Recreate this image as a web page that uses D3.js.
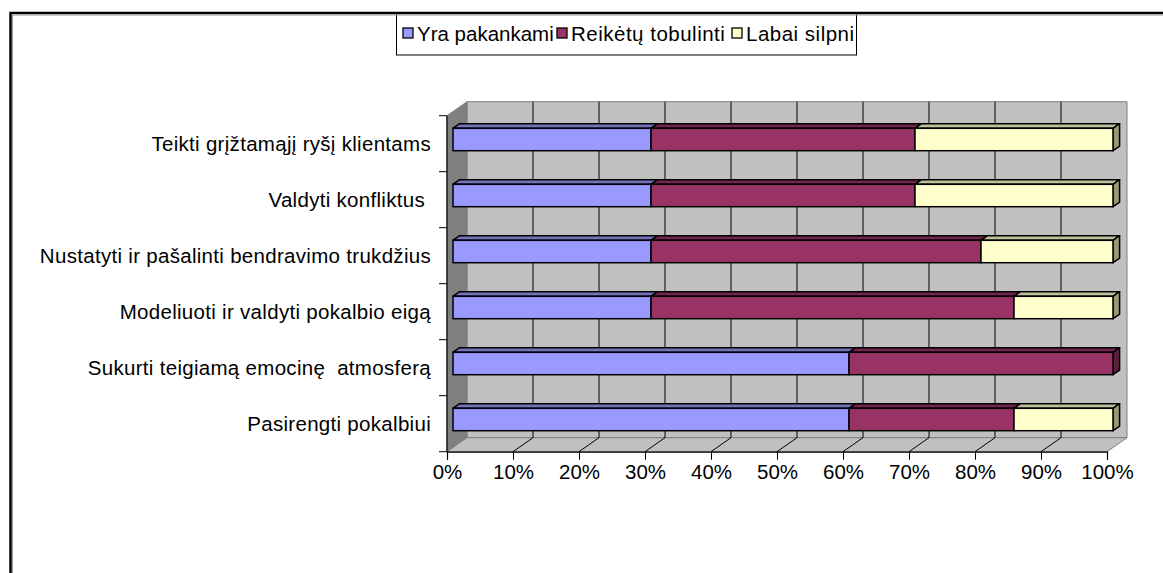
<!DOCTYPE html>
<meta charset="utf-8">

<!-- Load d3.js -->
<script src="https://d3js.org/d3.v7.min.js"></script>

<style>
  body { margin: 0; background: white; }
  .chart-text {
    font-family: "Liberation Sans", Arial, Helvetica, sans-serif;
    font-size: 20.5px;
    fill: black;
  }
</style>

<body>
<div id="my_dataviz"></div>

<script>
  // Data
  var categories = [
    "Teikti grįžtamąjį ryšį klientams",
    "Valdyti konfliktus ",
    "Nustatyti ir pašalinti bendravimo trukdžius",
    "Modeliuoti ir valdyti pokalbio eigą",
    "Sukurti teigiamą emocinę  atmosferą",
    "Pasirengti pokalbiui"
  ];
  var seriesNames = ["Yra pakankami", "Reikėtų tobulinti", "Labai silpni"];
  var yraPakankami     = [30, 30, 30, 30, 60, 60];
  var reiketuTobulinti = [40, 40, 50, 55, 40, 25];
  var labaiSilpni      = [30, 30, 20, 15, 0, 15];
  var xTicks = [0, 10, 20, 30, 40, 50, 60, 70, 80, 90, 100];

  // colours: front face, top face, right face
  var frontColor = ["#9999FF", "#993366", "#FFFFCC"];
  var topColor = ["#7373BF", "#73264D", "#BFBF99"];
  var sideColor = ["#5C5C99", "#5C1F3D", "#99997A"];

  var width = 1163, height = 573;

  // depth of the 3D box (towards upper right)
  var DX = 20, DY = -14;
  // bar sits between these fractions of the depth
  var barFront = 0.3, barBack = 0.63;

  var svg = d3.select("#my_dataviz").append("svg")
      .attr("width", width)
      .attr("height", height);

  // Scales
  var x = d3.scaleLinear()
      .domain([0, 100])
      .range([447, 1107]);

  var y = d3.scaleBand()
      .domain(categories)
      .range([115.7, 451.7])
      .paddingInner(0.6)
      .paddingOuter(0.3);

  var yTop = 115.7, yBottom = 451.7;

  function pts(arr) {
    return arr.map(function(p) { return p[0] + "," + p[1]; }).join(" ");
  }

  // ---------------- walls and floor ----------------
  // back wall
  svg.append("polygon")
    .attr("points", pts([[x(0) + DX, yTop + DY], [x(100) + DX, yTop + DY],
                         [x(100) + DX, yBottom + DY], [x(0) + DX, yBottom + DY]]))
    .attr("fill", "#C0C0C0")
    .attr("stroke", "#808080");

  // left wall
  svg.append("polygon")
    .attr("points", pts([[x(0), yTop], [x(0) + DX, yTop + DY],
                         [x(0) + DX, yBottom + DY], [x(0), yBottom]]))
    .attr("fill", "#808080")
    .attr("stroke", "#808080");

  // floor
  svg.append("polygon")
    .attr("points", pts([[x(0), yBottom], [x(100), yBottom],
                         [x(100) + DX, yBottom + DY], [x(0) + DX, yBottom + DY]]))
    .attr("fill", "#C0C0C0")
    .attr("stroke", "#808080");

  // gridlines on back wall + floor
  var inner = xTicks.filter(function(t) { return t > 0 && t < 100; });
  svg.selectAll(".grid")
    .data(inner)
    .enter().append("line")
      .attr("x1", function(d) { return x(d) + DX; })
      .attr("x2", function(d) { return x(d) + DX; })
      .attr("y1", yTop + DY)
      .attr("y2", yBottom + DY)
      .attr("stroke", "black");

  svg.selectAll(".floorgrid")
    .data(inner)
    .enter().append("line")
      .attr("x1", function(d) { return x(d); })
      .attr("x2", function(d) { return x(d) + DX; })
      .attr("y1", yBottom)
      .attr("y2", yBottom + DY)
      .attr("stroke", "black");

  // ---------------- bars ----------------
  var series = [yraPakankami, reiketuTobulinti, labaiSilpni];
  var fx = DX * barFront, fy = DY * barFront;
  var bx = DX * barBack, by = DY * barBack;

  categories.forEach(function(cat, i) {
    var start = 0;
    var segs = [];
    series.forEach(function(s, k) {
      if (s[i] > 0) segs.push({ k: k, x0: start, x1: start + s[i] });
      start += s[i];
    });
    var top = y(cat) + fy, bot = y(cat) + y.bandwidth() + fy;

    segs.forEach(function(sg, j) {
      var a = x(sg.x0) + fx, b = x(sg.x1) + fx;
      // top face
      svg.append("polygon")
        .attr("points", pts([[a, top], [b, top], [b + (bx - fx), top + (by - fy)], [a + (bx - fx), top + (by - fy)]]))
        .attr("fill", topColor[sg.k])
        .attr("stroke", "black")
        .attr("stroke-width", 1.5)
        .attr("stroke-linejoin", "round");
      // right face for the last segment
      if (j === segs.length - 1) {
        svg.append("polygon")
          .attr("points", pts([[b, top], [b + (bx - fx), top + (by - fy)], [b + (bx - fx), bot + (by - fy)], [b, bot]]))
          .attr("fill", sideColor[sg.k])
          .attr("stroke", "black")
          .attr("stroke-width", 1.5)
          .attr("stroke-linejoin", "round");
      }
      // front face
      svg.append("rect")
        .attr("x", a)
        .attr("y", top)
        .attr("width", b - a)
        .attr("height", bot - top)
        .attr("fill", frontColor[sg.k])
        .attr("stroke", "black")
        .attr("stroke-width", 1.5);
    });
  });

  // ---------------- axes ----------------
  // X axis
  var xAxis = svg.append("g")
      .attr("transform", "translate(0," + yBottom + ")")
      .call(d3.axisBottom(x).tickValues(xTicks).tickSize(8).tickPadding(5)
            .tickFormat(function(d) { return d + "%"; }));
  xAxis.select(".domain").attr("stroke", "black").attr("stroke-width", 1.2);
  xAxis.selectAll("text").attr("class", "chart-text").attr("fill", "black")
      .style("font-size", "20.5px");

  // Y axis (labels at band centres, ticks at band boundaries)
  var yAxis = svg.append("g")
      .attr("transform", "translate(" + x(0) + ",1)")
      .call(d3.axisLeft(y).tickSize(0).tickPadding(16));
  yAxis.select(".domain").remove();
  yAxis.selectAll("text").attr("class", "chart-text").attr("fill", "black")
      .style("font-size", "20.5px")
      .style("letter-spacing", "0.3px")
      .style("white-space", "pre");

  svg.append("line")
    .attr("x1", x(0)).attr("x2", x(0))
    .attr("y1", yTop).attr("y2", yBottom)
    .attr("stroke", "black").attr("stroke-width", 1.2);

  var bounds = d3.range(categories.length + 1).map(function(i) { return yTop + i * y.step(); });
  svg.selectAll(".ytick")
    .data(bounds)
    .enter().append("line")
      .attr("x1", x(0) - 8)
      .attr("x2", x(0))
      .attr("y1", function(d) { return d; })
      .attr("y2", function(d) { return d; })
      .attr("stroke", "black");

  // ---------------- legend ----------------
  var legend = svg.append("g");
  legend.append("rect")
    .attr("x", 396.5).attr("y", 13.5)
    .attr("width", 460).attr("height", 41.5)
    .attr("fill", "white")
    .attr("stroke", "black");

  // legend item left edges
  var legendX = [403, 557, 732];
  seriesNames.forEach(function(name, k) {
    legend.append("rect")
      .attr("x", legendX[k]).attr("y", 28)
      .attr("width", 10).attr("height", 10)
      .attr("fill", frontColor[k])
      .attr("stroke", "black")
      .attr("stroke-width", 1.3);
    legend.append("text")
      .attr("class", "chart-text")
      .attr("x", legendX[k] + 14)
      .attr("y", 40.5)
      .style("letter-spacing", k === 0 ? "0px" : "0.5px")
      .text(name);
  });

  // chart area border
  svg.append("rect")
    .attr("x", 10.5).attr("y", 13)
    .attr("width", 1200).attr("height", 600)
    .attr("fill", "none")
    .attr("stroke", "black")
    .attr("stroke-width", 2.5);
  svg.append("path")
    .attr("d", "M12.5,600 V15 H1200")
    .attr("fill", "none")
    .attr("stroke", "#999")
    .attr("stroke-width", 1);
</script>
</body>
